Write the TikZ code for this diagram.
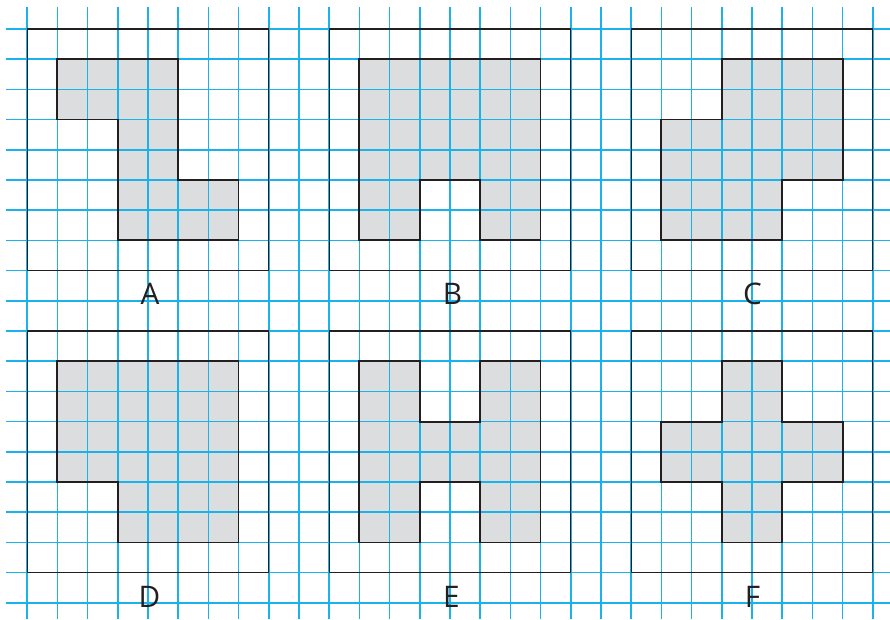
\documentclass[tikz,border=0pt]{standalone}
\usepackage{fontspec}
\setmainfont{Open Sans}
\definecolor{gridblue}{HTML}{19B2EC}
\definecolor{shapegray}{HTML}{DCDDDF}
\definecolor{inkdark}{HTML}{231F20}
% the six grid figures (cell coordinates, rows counted downwards)
\newcommand{\pieceA}{(1,1) -- (5,1) -- (5,5) -- (7,5) -- (7,7) -- (3,7) -- (3,3) -- (1,3) -- cycle}
\newcommand{\pieceB}{(11,1) -- (17,1) -- (17,7) -- (15,7) -- (15,5) -- (13,5) -- (13,7) -- (11,7) -- cycle}
\newcommand{\pieceC}{(23,1) -- (27,1) -- (27,5) -- (25,5) -- (25,7) -- (21,7) -- (21,3) -- (23,3) -- cycle}
\newcommand{\pieceD}{(1,11) -- (7,11) -- (7,17) -- (3,17) -- (3,15) -- (1,15) -- cycle}
\newcommand{\pieceE}{(11,11) -- (13,11) -- (13,13) -- (15,13) -- (15,11) -- (17,11) -- (17,17) -- (15,17) -- (15,15) -- (13,15) -- (13,17) -- (11,17) -- cycle}
\newcommand{\pieceF}{(23,11) -- (25,11) -- (25,13) -- (27,13) -- (27,15) -- (25,15) -- (25,17) -- (23,17) -- (23,15) -- (21,15) -- (21,13) -- (23,13) -- cycle}
\begin{document}
\begin{tikzpicture}[x=5mm,y=-5mm,
    gridline/.style={gridblue,line width=0.75pt},
    frame/.style={draw=inkdark,line width=0.6pt},
    piece/.style={draw=inkdark,line width=0.85pt,line join=miter},
    tag/.style={font=\fontsize{14}{16}\selectfont,text=inkdark}
  ]
    \useasboundingbox (-0.9,-0.96) rectangle (28.57,19.54);
    % grey fills below the grid
    \foreach \p in {\pieceA,\pieceB,\pieceC,\pieceD,\pieceE,\pieceF}
      \fill[shapegray] \p;
    % squared paper
    \foreach \c in {0,...,28}
      \draw[gridline] (\c,-0.73) -- (\c,19.54);
    \foreach \r in {0,...,19}
      \draw[gridline] (-0.69,\r) -- (28.57,\r);
    % frames and outlines
    \foreach \x in {0,10,20}
      \foreach \y in {0,10}
        \draw[frame] (\x,\y) rectangle ++(8,8);
    \foreach \p in {\pieceA,\pieceB,\pieceC,\pieceD,\pieceE,\pieceF}
      \draw[piece] \p;
    % labels
    \node[tag] (labA) at (4.07,8.78) {A};
    \node[tag] (labB) at (14.08,8.78) {B};
    \node[tag] (labC) at (24.02,8.78) {C};
    \node[tag] (labD) at (4.05,18.82) {D};
    \node[tag] (labE) at (14.05,18.82) {E};
    \node[tag] (labF) at (24.02,18.82) {F};
  \end{tikzpicture}
\end{document}
